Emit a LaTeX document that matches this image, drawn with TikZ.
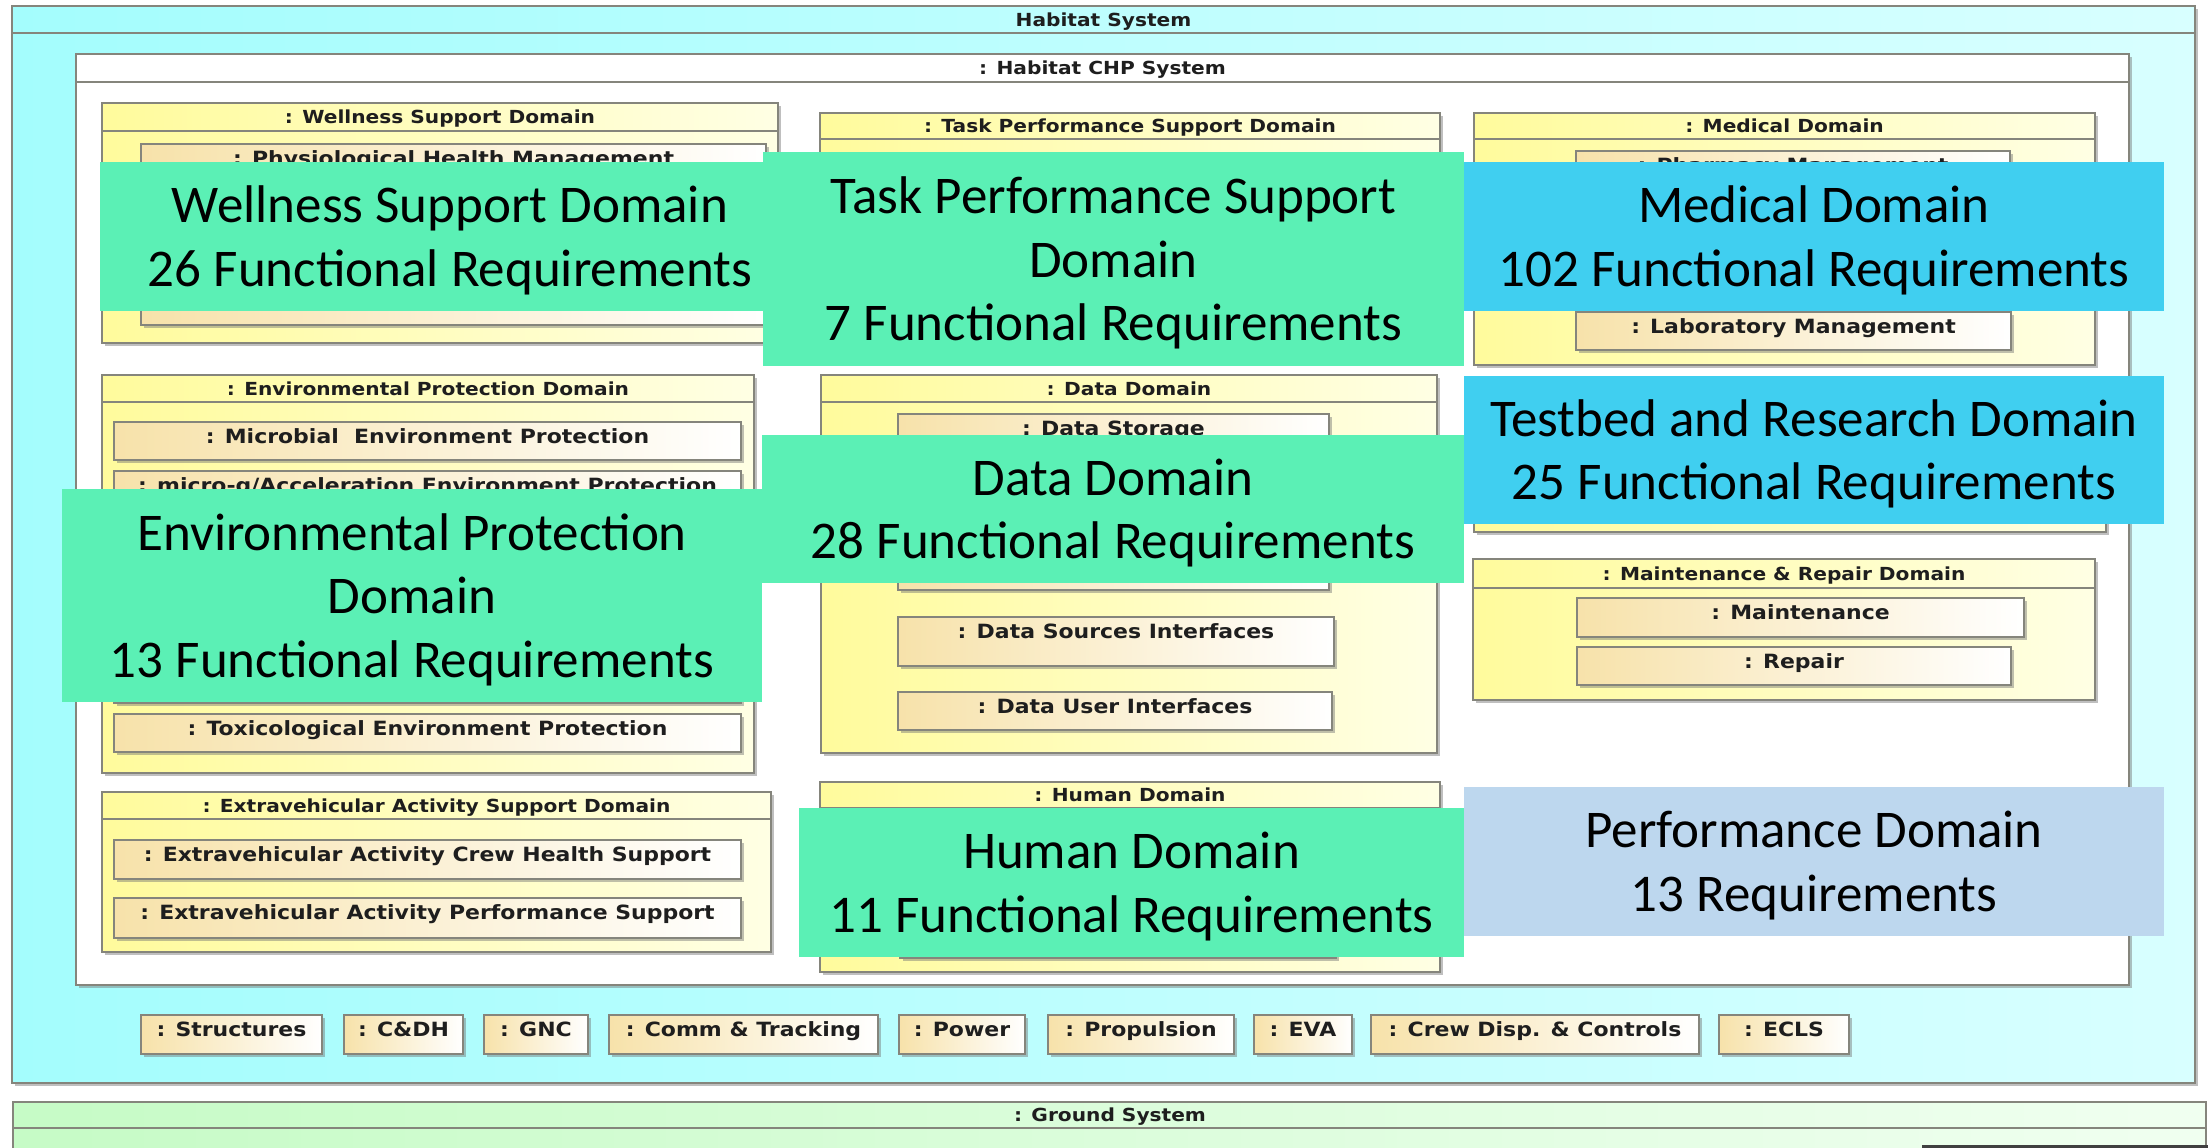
\documentclass[tikz,border=0pt]{standalone}
\usepackage{fontspec}
\setmainfont{DejaVu Sans}
\newfontfamily\lblfont[FakeStretch=1.12]{DejaVu Sans}
\newfontfamily\ovfont{Carlito}
\usetikzlibrary{shadows}

\definecolor{cyanL}{HTML}{A4FDFD}
\definecolor{cyanR}{HTML}{D8FFFF}
\definecolor{bord}{HTML}{85857C}
\definecolor{yelL}{HTML}{FFFB9C}
\definecolor{yelR}{HTML}{FFFFE4}
\definecolor{tanL}{HTML}{F7E2AA}
\definecolor{tanR}{HTML}{FFFFFF}
\definecolor{grnL}{HTML}{C6FBC6}
\definecolor{grnR}{HTML}{F0FFF0}
\definecolor{ovGreen}{HTML}{5BF0B5}
\definecolor{ovBlue}{HTML}{40CFF0}
\definecolor{ovPale}{HTML}{BDD7EE}
\definecolor{lbl}{HTML}{1E1E1E}

\tikzset{
  every node/.style={inner sep=0pt, outer sep=0pt},
  shad/.style={drop shadow={shadow xshift=0.9pt, shadow yshift=-0.9pt, opacity=0.45, fill=black!55}},
  sysbox/.style={draw=bord, line width=0.65pt},
  outerst/.style={sysbox, shad, left color=cyanL, right color=cyanR},
  chpst/.style={sysbox, shad, fill=white},
  domst/.style={sysbox, shad, left color=yelL, right color=yelR},
  partst/.style={sysbox, shad, left color=tanL, right color=tanR},
  gndst/.style={sysbox, left color=grnL, right color=grnR},
  hdrst/.style={sysbox},
  hdrtext/.style={anchor=base, text=lbl, font=\lblfont\bfseries\fontsize{5.12}{6}\selectfont},
  parttext/.style={anchor=base, text=lbl, font=\lblfont\bfseries\fontsize{5.58}{6.5}\selectfont},
  ovst/.style={anchor=north west},
  ovtext/.style={align=center, text=black, font=\ovfont\fontsize{15.08}{18.07}\selectfont},
}

\newcommand\rbox[6]{\node[#1, anchor=north west, minimum width={(#5-#3)*0.01cm}, minimum height={(#6-#4)*0.01cm}] (#2) at (#3,#4) {};}
\newcommand\partbox[6]{\rbox{partst}{#1}{#2}{#3}{#4}{#5}\node[parttext] (#1-t) at ({(#2+#4)/2},{#3+21.6}) {#6};}
\newcommand\partboxE[5]{\rbox{partst}{#1}{#2}{#3}{#4}{#5}}
\newcommand\dombox[7]{\rbox{domst}{#1}{#2}{#3}{#4}{#5}\rbox{hdrst}{#1-h}{#2}{#3}{#4}{#6}\node[hdrtext] (#1-t) at ({(#2+#4)/2},{(#3+#6)/2+6.6}) {#7};}
\newcommand\ovbox[7]{\node[ovst, fill=#2, minimum width={(#5-#3)*0.01cm}, minimum height={(#6-#4)*0.01cm}] (#1) at (#3,#4) {};\node[ovtext] (#1-t) at ({(#3+#5)/2},{(#4+#6)/2+4}) {#7};}

\begin{document}
\begin{tikzpicture}[x=0.01cm, y=-0.01cm]
\path[use as bounding box] (0,0) rectangle (2208,1148);
\clip (0,0) rectangle (2208,1148);
\fill[white] (0,0) rectangle (2208,1148);

% Habitat System
\rbox{outerst}{hab}{12}{6}{2195}{1083}
\rbox{hdrst}{hab-h}{12}{6}{2195}{33}
\node[hdrtext] (hab-t) at (1103.5,26.1) {Habitat System};

% Ground System
\rbox{gndst}{gnd}{13}{1102}{2206}{1175}
\rbox{hdrst}{gnd-h}{13}{1102}{2206}{1128}
\node[hdrtext] (gnd-t) at (1110,1121.6) {: Ground System};
\draw[line width=1.1pt, black!75] (1922,1146.5) -- (2208,1146.5);

% Habitat CHP System
\rbox{chpst}{chp}{76}{54}{2129}{985}
\rbox{hdrst}{chp-h}{76}{54}{2129}{82}
\node[hdrtext] (chp-t) at (1102.5,74.6) {: Habitat CHP System};

% Domains
\dombox{wsd}{102}{103}{778}{343}{131}{: Wellness Support Domain}
\partbox{phm}{141}{144}{766}{182}{: Physiological Health Management}
\partboxE{wsd2}{141}{287}{766}{325}

\dombox{tps}{820}{113}{1440}{362}{139}{: Task Performance Support Domain}

\dombox{med}{1474}{113}{2095}{365}{139}{: Medical Domain}
\partbox{phar}{1576}{151}{2010}{189}{: Pharmacy Management}
\partbox{lab}{1576}{312}{2011}{350}{: Laboratory Management}

\rbox{domst}{tbd}{1474}{385}{2106}{532}

\dombox{env}{102}{375}{754}{773}{402}{: Environmental Protection Domain}
\partbox{mic}{114}{422}{741}{460}{: Microbial\ \ Environment Protection}
\partbox{mig}{114}{471}{741}{509}{: micro-g/Acceleration Environment Protection}
\partboxE{env3}{114}{520}{741}{558}
\partboxE{env4}{114}{569}{741}{607}
\partboxE{env5}{114}{618}{741}{656}
\partboxE{env6}{114}{665}{741}{703}
\partbox{tox}{114}{714}{741}{752}{: Toxicological Environment Protection}

\dombox{dat}{821}{375}{1437}{753}{402}{: Data Domain}
\partbox{dst}{898}{414}{1329}{452}{: Data Storage}
\partboxE{dat2}{898}{541}{1329}{590}
\partbox{dsi}{898}{617}{1334}{666}{: Data Sources Interfaces}
\partbox{dui}{898}{692}{1332}{730}{: Data User Interfaces}

\dombox{mrd}{1473}{559}{2095}{700}{588}{: Maintenance \& Repair Domain}
\partbox{mnt}{1577}{598}{2024}{637}{: Maintenance}
\partbox{rep}{1577}{647}{2011}{685}{: Repair}

\dombox{eva}{102}{792}{771}{952}{819}{: Extravehicular Activity Support Domain}
\partbox{evc}{114}{840}{741}{879}{: Extravehicular Activity Crew Health Support}
\partbox{evp}{114}{898}{741}{938}{: Extravehicular Activity Performance Support}

\dombox{hum}{820}{782}{1440}{972}{808}{: Human Domain}
\partboxE{hum1}{900}{920}{1336}{958}

% bottom row
\partbox{str}{141}{1015}{322}{1054}{: Structures}
\partbox{cdh}{344}{1015}{463}{1054}{: C\&DH}
\partbox{gnc}{484}{1015}{588}{1054}{: GNC}
\partbox{com}{609}{1015}{878}{1054}{: Comm \& Tracking}
\partbox{pow}{899}{1015}{1025}{1054}{: Power}
\partbox{pro}{1048}{1015}{1234}{1054}{: Propulsion}
\partbox{evb}{1254}{1015}{1352}{1054}{: EVA}
\partbox{crw}{1371}{1015}{1699}{1054}{: Crew Disp. \& Controls}
\partbox{ecl}{1719}{1015}{1849}{1054}{: ECLS}

% overlays
\ovbox{ovW}{ovGreen}{100}{162}{800}{311}{Wellness Support Domain\\26 Functional Requirements}
\ovbox{ovT}{ovGreen}{763}{152}{1464}{366}{Task Performance Support\\Domain\\7 Functional Requirements}
\ovbox{ovM}{ovBlue}{1464}{162}{2164}{311}{Medical Domain\\102 Functional Requirements}
\ovbox{ovTB}{ovBlue}{1464}{376}{2164}{524}{Testbed and Research Domain\\25 Functional Requirements}
\ovbox{ovE}{ovGreen}{62}{489}{762}{702}{Environmental Protection\\Domain\\13 Functional Requirements}
\ovbox{ovD}{ovGreen}{762}{435}{1464}{583}{Data Domain\\28 Functional Requirements}
\ovbox{ovH}{ovGreen}{799}{808}{1464}{957}{Human Domain\\11 Functional Requirements}
\ovbox{ovP}{ovPale}{1464}{787}{2164}{936}{Performance Domain\\13 Requirements}
\end{tikzpicture}
\end{document}
